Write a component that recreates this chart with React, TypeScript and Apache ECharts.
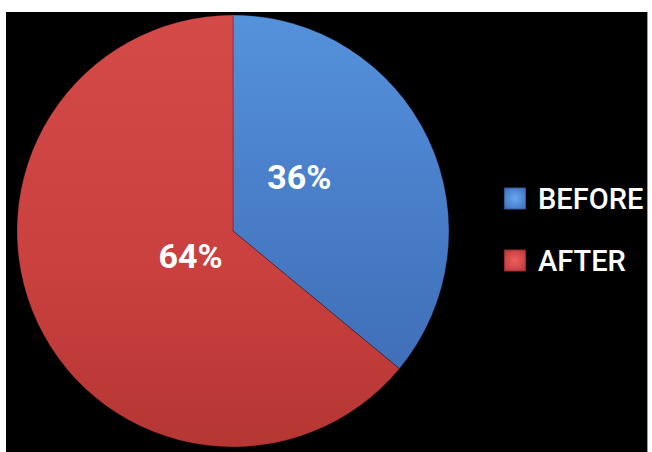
import React, { useEffect, useRef } from "react";
import * as echarts from "echarts";

const categories = ["BEFORE", "AFTER"];
const values = [36, 64];

const blueFill = new echarts.graphic.LinearGradient(0, 0, 0, 1, [
  { offset: 0, color: "#5592dc" },
  { offset: 0.5, color: "#4a7fca" },
  { offset: 1, color: "#3f6fb8" },
]);
const redFill = new echarts.graphic.LinearGradient(0, 0, 0, 1, [
  { offset: 0, color: "#d44a48" },
  { offset: 0.6, color: "#c9403e" },
  { offset: 1, color: "#b53634" },
]);
const legendBlue = new echarts.graphic.RadialGradient(0.5, 0.5, 0.7, [
  { offset: 0, color: "#6aa8f0" },
  { offset: 1, color: "#3a6bb8" },
]);
const legendRed = new echarts.graphic.RadialGradient(0.5, 0.5, 0.7, [
  { offset: 0, color: "#f06060" },
  { offset: 1, color: "#b83232" },
]);

export default function App() {
  const ref = useRef<HTMLDivElement>(null);
  useEffect(() => {
    document.body.style.margin = "0";
    const chart = echarts.init(ref.current!, null, { renderer: "svg" });
    const fills = [blueFill, redFill];
    const legendFills = [legendBlue, legendRed];
    const offsets = [
      [-34, -7],
      [58, -22],
    ];
    chart.setOption({
      animation: false,
      backgroundColor: "#000000",
      legend: {
        orient: "vertical",
        left: 497,
        top: 172,
        padding: 0,
        itemWidth: 22,
        itemHeight: 22,
        itemGap: 33,
        icon: "rect",
        data: categories.map((c, i) => ({
          name: c,
          itemStyle: { color: legendFills[i] },
        })),
        textStyle: {
          color: "#ffffff",
          fontFamily: "Roboto",
          fontSize: 29,
          fontWeight: 500,
          padding: [0, 0, 0, 7],
        },
      },
      series: [
        {
          type: "pie",
          center: [227, 219],
          radius: [0, 216],
          startAngle: 90,
          clockwise: true,
          silent: true,
          itemStyle: { borderColor: "rgba(0,0,0,0.25)", borderWidth: 1 },
          label: {
            show: true,
            position: "inside",
            formatter: "{d}%",
            color: "#ffffff",
            fontFamily: "Roboto",
            fontSize: 34,
            fontWeight: "bold",
          },
          labelLine: { show: false },
          data: categories.map((c, i) => ({
            name: c,
            value: values[i],
            itemStyle: { color: fills[i] },
            label: { offset: offsets[i] },
          })),
        },
      ],
    });
    return () => chart.dispose();
  }, []);
  return (
    <div
      style={{
        position: "fixed",
        left: 0,
        top: 0,
        width: 652,
        height: 452,
        background: "#ffffff",
      }}
    >
      <div
        ref={ref}
        style={{
          position: "absolute",
          left: 6,
          top: 12,
          width: 641,
          height: 440,
          borderRight: "1px solid #9a9a9a",
        }}
      />
    </div>
  );
}
